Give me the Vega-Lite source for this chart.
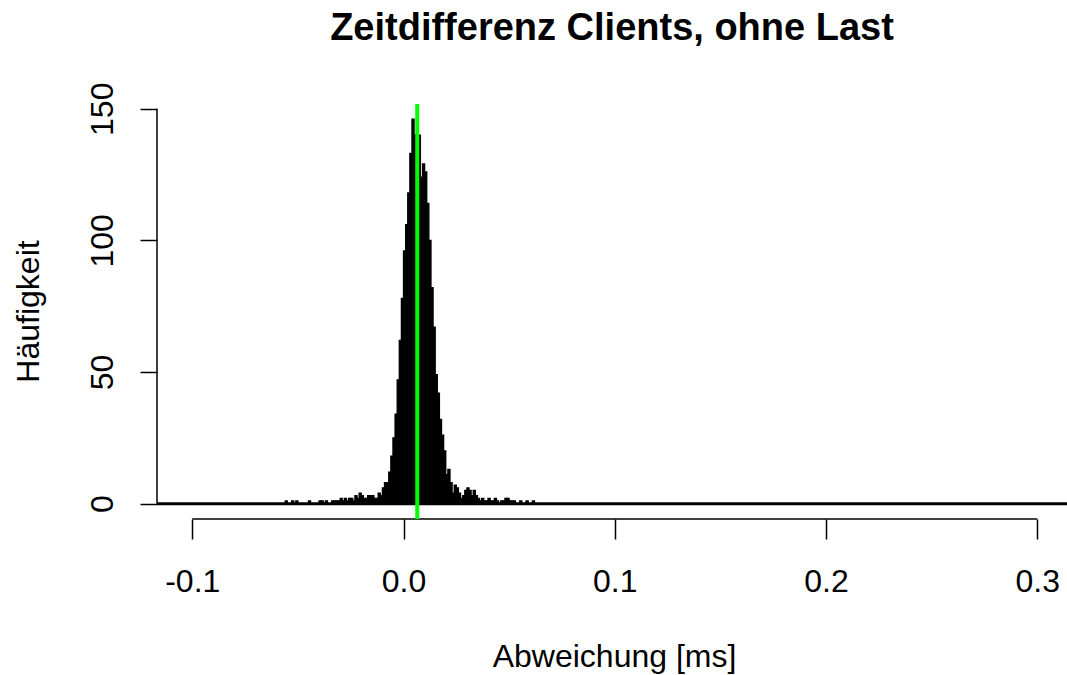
{
  "$schema": "https://vega.github.io/schema/vega-lite/v6.json",
  "autosize": {"type": "none"},
  "padding": {"left": 157, "top": 104, "right": 0, "bottom": 156},
  "width": 910,
  "height": 415,
  "background": "white",
  "title": {
    "text": "Zeitdifferenz Clients, ohne Last",
    "font": "Liberation Sans",
    "fontSize": 38,
    "fontWeight": "bold",
    "color": "black",
    "anchor": "middle",
    "baseline": "alphabetic",
    "offset": 0,
    "dy": -4
  },
  "config": {
    "view": {"stroke": null},
    "font": "Liberation Sans",
    "axis": {
      "grid": false,
      "domain": false,
      "labelFont": "Liberation Sans",
      "labelFontSize": 32,
      "labelColor": "black",
      "titleFont": "Liberation Sans",
      "titleFontSize": 32,
      "titleFontWeight": "normal",
      "titleColor": "black",
      "tickColor": "black",
      "tickWidth": 1.5,
      "labelOverlap": false,
      "labelFlush": false
    }
  },
  "datasets": {
    "bins": [
      {"lo": -0.056, "hi": -0.055, "n": 1},
      {"lo": -0.053, "hi": -0.052, "n": 1},
      {"lo": -0.051, "hi": -0.050, "n": 1},
      {"lo": -0.045, "hi": -0.044, "n": 1},
      {"lo": -0.040, "hi": -0.039, "n": 1},
      {"lo": -0.039, "hi": -0.038, "n": 1},
      {"lo": -0.037, "hi": -0.036, "n": 1},
      {"lo": -0.034, "hi": -0.033, "n": 1},
      {"lo": -0.033, "hi": -0.032, "n": 1},
      {"lo": -0.032, "hi": -0.031, "n": 1},
      {"lo": -0.031, "hi": -0.030, "n": 1},
      {"lo": -0.030, "hi": -0.029, "n": 2},
      {"lo": -0.029, "hi": -0.028, "n": 1},
      {"lo": -0.028, "hi": -0.027, "n": 2},
      {"lo": -0.027, "hi": -0.026, "n": 1},
      {"lo": -0.026, "hi": -0.025, "n": 2},
      {"lo": -0.025, "hi": -0.024, "n": 2},
      {"lo": -0.024, "hi": -0.023, "n": 1},
      {"lo": -0.023, "hi": -0.022, "n": 3},
      {"lo": -0.022, "hi": -0.021, "n": 2},
      {"lo": -0.021, "hi": -0.020, "n": 4},
      {"lo": -0.020, "hi": -0.019, "n": 3},
      {"lo": -0.019, "hi": -0.018, "n": 2},
      {"lo": -0.018, "hi": -0.017, "n": 2},
      {"lo": -0.017, "hi": -0.016, "n": 3},
      {"lo": -0.016, "hi": -0.015, "n": 3},
      {"lo": -0.015, "hi": -0.014, "n": 3},
      {"lo": -0.014, "hi": -0.013, "n": 2},
      {"lo": -0.013, "hi": -0.012, "n": 2},
      {"lo": -0.012, "hi": -0.011, "n": 4},
      {"lo": -0.011, "hi": -0.010, "n": 3},
      {"lo": -0.010, "hi": -0.009, "n": 6},
      {"lo": -0.009, "hi": -0.008, "n": 8},
      {"lo": -0.008, "hi": -0.007, "n": 8},
      {"lo": -0.007, "hi": -0.006, "n": 12},
      {"lo": -0.006, "hi": -0.005, "n": 18},
      {"lo": -0.005, "hi": -0.004, "n": 25},
      {"lo": -0.004, "hi": -0.003, "n": 34},
      {"lo": -0.003, "hi": -0.002, "n": 47},
      {"lo": -0.002, "hi": -0.001, "n": 62},
      {"lo": -0.001, "hi": 0.000, "n": 78},
      {"lo": 0.000, "hi": 0.001, "n": 96},
      {"lo": 0.001, "hi": 0.002, "n": 106},
      {"lo": 0.002, "hi": 0.003, "n": 118},
      {"lo": 0.003, "hi": 0.004, "n": 133},
      {"lo": 0.004, "hi": 0.005, "n": 146},
      {"lo": 0.005, "hi": 0.006, "n": 140},
      {"lo": 0.006, "hi": 0.007, "n": 136},
      {"lo": 0.007, "hi": 0.008, "n": 140},
      {"lo": 0.008, "hi": 0.009, "n": 124},
      {"lo": 0.009, "hi": 0.010, "n": 129},
      {"lo": 0.010, "hi": 0.011, "n": 126},
      {"lo": 0.011, "hi": 0.012, "n": 114},
      {"lo": 0.012, "hi": 0.013, "n": 100},
      {"lo": 0.013, "hi": 0.014, "n": 82},
      {"lo": 0.014, "hi": 0.015, "n": 67},
      {"lo": 0.015, "hi": 0.016, "n": 49},
      {"lo": 0.016, "hi": 0.017, "n": 42},
      {"lo": 0.017, "hi": 0.018, "n": 32},
      {"lo": 0.018, "hi": 0.019, "n": 26},
      {"lo": 0.019, "hi": 0.020, "n": 20},
      {"lo": 0.020, "hi": 0.021, "n": 11},
      {"lo": 0.021, "hi": 0.022, "n": 13},
      {"lo": 0.022, "hi": 0.023, "n": 8},
      {"lo": 0.023, "hi": 0.024, "n": 4},
      {"lo": 0.024, "hi": 0.025, "n": 7},
      {"lo": 0.025, "hi": 0.026, "n": 6},
      {"lo": 0.026, "hi": 0.027, "n": 4},
      {"lo": 0.027, "hi": 0.028, "n": 2},
      {"lo": 0.028, "hi": 0.029, "n": 3},
      {"lo": 0.029, "hi": 0.030, "n": 5},
      {"lo": 0.030, "hi": 0.031, "n": 6},
      {"lo": 0.031, "hi": 0.032, "n": 5},
      {"lo": 0.032, "hi": 0.033, "n": 3},
      {"lo": 0.033, "hi": 0.034, "n": 5},
      {"lo": 0.034, "hi": 0.035, "n": 3},
      {"lo": 0.035, "hi": 0.036, "n": 2},
      {"lo": 0.036, "hi": 0.037, "n": 1},
      {"lo": 0.037, "hi": 0.038, "n": 2},
      {"lo": 0.038, "hi": 0.039, "n": 1},
      {"lo": 0.039, "hi": 0.040, "n": 1},
      {"lo": 0.040, "hi": 0.041, "n": 2},
      {"lo": 0.041, "hi": 0.042, "n": 1},
      {"lo": 0.042, "hi": 0.043, "n": 1},
      {"lo": 0.043, "hi": 0.044, "n": 2},
      {"lo": 0.044, "hi": 0.045, "n": 1},
      {"lo": 0.046, "hi": 0.047, "n": 1},
      {"lo": 0.047, "hi": 0.048, "n": 1},
      {"lo": 0.048, "hi": 0.049, "n": 2},
      {"lo": 0.049, "hi": 0.050, "n": 2},
      {"lo": 0.050, "hi": 0.051, "n": 1},
      {"lo": 0.051, "hi": 0.052, "n": 1},
      {"lo": 0.052, "hi": 0.053, "n": 1},
      {"lo": 0.055, "hi": 0.056, "n": 1},
      {"lo": 0.058, "hi": 0.059, "n": 1},
      {"lo": 0.061, "hi": 0.062, "n": 1}
    ],
    "stats": [
      {"mittel": 0.0065}
    ]
  },
  "layer": [
    {
      "data": {"name": "bins"},
      "mark": {"type": "bar", "fill": "black", "stroke": "black", "strokeWidth": 1.3, "clip": true},
      "encoding": {
        "x": {
          "field": "lo",
          "type": "quantitative",
          "scale": {"domain": [-0.1167, 0.3141], "nice": false, "zero": false},
          "axis": {
            "values": [-0.1, 0, 0.1, 0.2, 0.3],
            "labelExpr": "replace(format(datum.value, '.1f'), '\u2212', '-')",
            "tickSize": 20,
            "labelPadding": 27,
            "labelBaseline": "top",
            "title": "Abweichung [ms]",
            "titleX": 457,
            "titleY": 147,
            "titleAnchor": "middle",
            "titleAlign": "center",
            "titleBaseline": "alphabetic"
          }
        },
        "x2": {"field": "hi"},
        "y": {
          "field": "n",
          "type": "quantitative",
          "scale": {"domain": [-5.84, 151.8], "nice": false, "zero": false},
          "axis": {
            "values": [0, 50, 100, 150],
            "tickSize": 17,
            "labelPadding": 28,
            "labelAngle": 270,
            "labelAlign": "center",
            "labelBaseline": "alphabetic",
            "title": "Häufigkeit",
            "titleAngle": 270,
            "titleX": -119,
            "titleY": 207,
            "titleAlign": "center",
            "titleBaseline": "alphabetic"
          }
        },
        "y2": {"datum": 0}
      }
    },
    {
      "data": {"values": [{}]},
      "mark": {"type": "rule", "color": "black", "strokeWidth": 3, "clip": true},
      "encoding": {
        "x": {"datum": -0.1167, "type": "quantitative"},
        "x2": {"datum": 0.3141},
        "y": {"datum": 0, "type": "quantitative"}
      }
    },
    {
      "data": {"values": [{}]},
      "mark": {"type": "rule", "color": "black", "strokeWidth": 1.5},
      "encoding": {
        "x": {"datum": -0.1, "type": "quantitative"},
        "x2": {"datum": 0.3},
        "y": {"datum": -5.84, "type": "quantitative"}
      }
    },
    {
      "data": {"values": [{}]},
      "mark": {"type": "rule", "color": "black", "strokeWidth": 1.5},
      "encoding": {
        "x": {"datum": -0.1167, "type": "quantitative"},
        "y": {"datum": 0, "type": "quantitative"},
        "y2": {"datum": 150}
      }
    },
    {
      "data": {"name": "stats"},
      "mark": {"type": "rule", "color": "#00ff00", "strokeWidth": 4},
      "encoding": {
        "x": {"field": "mittel", "type": "quantitative"}
      }
    }
  ]
}
